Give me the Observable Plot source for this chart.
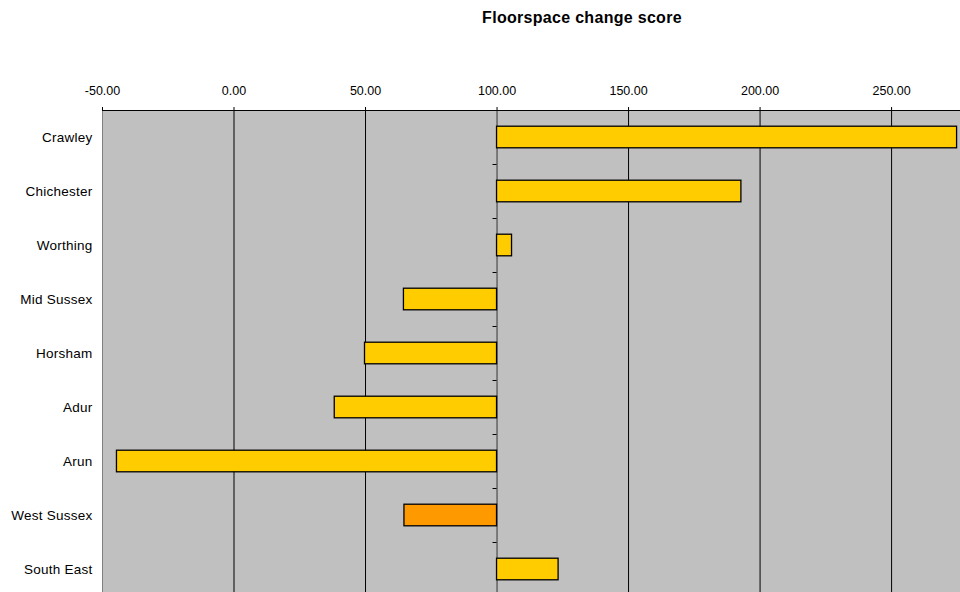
<!DOCTYPE html>
<html>
<head>
<meta charset="utf-8">
<script src="https://cdn.jsdelivr.net/npm/d3@7"></script>
<script src="https://cdn.jsdelivr.net/npm/@observablehq/plot@0.6"></script>
<style>
  html, body { margin: 0; padding: 0; background: #fff; }
  #title { height: 31px; padding-top: 9px; box-sizing: content-box; width: 960px; text-align: left;
    font: bold 16px "Liberation Sans", Arial, sans-serif; letter-spacing: 0.3px; white-space: nowrap; color: #000; }
  #title span { display: inline-block; position: relative; left: 582px; transform: translateX(-50%); }
  #chart svg { display: block; }
  #chart g[aria-label="y-axis tick label"] text { letter-spacing: 0.25px; }
</style>
</head>
<body>
<div id="title"><span>Floorspace change score</span></div>
<div id="chart"></div>
<script>
const categories = ["Crawley", "Chichester", "Worthing", "Mid Sussex", "Horsham", "Adur", "Arun", "West Sussex", "South East"];
const scores = [274.9, 192.9, 105.7, 64.6, 49.8, 38.3, -44.5, 64.8, 123.4];
const highlight = ["West Sussex"];
const tickValues = [-50, 0, 50, 100, 150, 200, 250];
const gridValues = [0, 50, 150, 200, 250];
const baseline = 100;
const xMax = 276.2;

const data = categories.map((c, i) => ({category: c, value: scores[i]}));

const band = 54;
const marginTop = 70;
const height = marginTop + band * categories.length;

try {
const chart = Plot.plot({
  width: 960,
  height,
  marginTop,
  marginLeft: 102,
  marginRight: 0,
  marginBottom: 0,
  style: {fontFamily: '"Liberation Sans", Arial, sans-serif', fontSize: "12.5px", color: "#000", background: "#fff", overflow: "visible"},
  x: {domain: [-50, xMax], axis: null},
  y: {domain: categories, padding: 0, axis: null},
  marks: [
    Plot.frame({fill: "#C0C0C0", stroke: null}),
    Plot.ruleX([-50], {stroke: "#808080", strokeWidth: 1}),
    Plot.ruleX(gridValues, {stroke: "#000", strokeWidth: 1}),
    Plot.ruleX([baseline], {stroke: "#333", strokeWidth: 1}),
    Plot.ruleY(categories, {y: d => d, x1: baseline, x2: baseline, insetLeft: -4, dy: band / 2, stroke: "#000"}),
    Plot.barX(data, {
      y: "category", x1: baseline, x2: "value",
      fill: d => highlight.includes(d.category) ? "#FF9900" : "#FFCC00",
      stroke: "#000", strokeWidth: 1.3,
      insetTop: 16.2, insetBottom: 16.2
    }),
    Plot.ruleY([categories[0]], {y: d => d, x1: -50, x2: xMax, dy: -band / 2, stroke: "#000"}),
    Plot.axisX({anchor: "top", ticks: tickValues, tickFormat: d => d.toFixed(2), tickSize: 4, tickPadding: 12, fontSize: 12.5, label: null}),
    Plot.axisY({anchor: "left", tickSize: 0, tickPadding: 10, fontSize: 13.5, label: null})
  ]
});
document.getElementById("chart").appendChild(chart);
} catch (e) {
  document.getElementById("chart").textContent = "ERR: " + e.message;
}
</script>
</body>
</html>
